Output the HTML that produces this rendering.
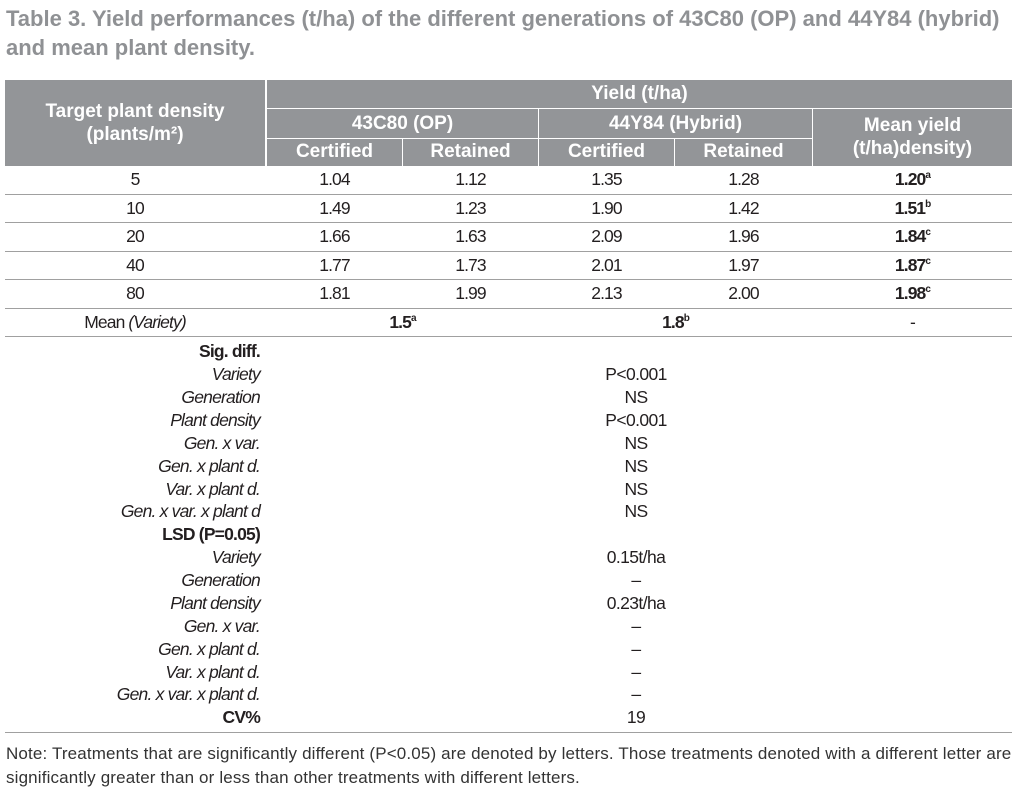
<!DOCTYPE html>
<html><head><meta charset="utf-8"><style>
body{margin:0;width:1017px;height:802px;background:#fff;position:relative;font-family:"Liberation Sans",sans-serif;color:#231f20;overflow:hidden}
.a{position:absolute;white-space:nowrap}
.t{font-weight:bold;color:#8f9194;font-size:22px;left:6px}
.h{position:absolute;background:#939598}
.hw{color:#fff;font-weight:bold;font-size:19px;text-align:center;position:absolute}
.l{position:absolute;height:1px;background:#a0a0a0;left:5px;width:1007px}
.wl{position:absolute;background:#fff}
.c{position:absolute;text-align:center;font-size:17.5px;letter-spacing:-0.9px}
.r{position:absolute;right:757px;font-size:17.5px;letter-spacing:-0.8px;text-align:right;white-space:nowrap}
.v{position:absolute;left:536px;width:200px;text-align:center;font-size:17.5px;letter-spacing:-0.6px}
sup{font-size:10px}
i{font-style:italic}
</style></head><body>
<div class="a t" style="top:6px">Table 3. Yield performances (t/ha) of the different generations of 43C80 (OP) and 44Y84 (hybrid)</div>
<div class="a t" style="top:35px">and mean plant density.</div>

<div class="h" style="left:5px;top:80px;width:1007px;height:86px"></div>
<div class="wl" style="left:265px;top:80px;width:2px;height:86px"></div>
<div class="wl" style="left:265px;top:108px;width:747px;height:1px"></div>
<div class="wl" style="left:265px;top:138px;width:547px;height:1px"></div>
<div class="wl" style="left:538px;top:108px;width:1px;height:58px"></div>
<div class="wl" style="left:812px;top:108px;width:1px;height:58px"></div>
<div class="wl" style="left:402px;top:138px;width:1px;height:28px"></div>
<div class="wl" style="left:674px;top:138px;width:1px;height:28px"></div>

<div class="hw" style="left:5px;width:260px;top:100px;line-height:23px">Target plant density<br>(plants/m²)</div>
<div class="hw" style="left:267px;width:745px;top:83px">Yield (t/ha)</div>
<div class="hw" style="left:267px;width:271px;top:113px">43C80 (OP)</div>
<div class="hw" style="left:539px;width:273px;top:113px">44Y84 (Hybrid)</div>
<div class="hw" style="left:813px;width:199px;top:114px;line-height:23px">Mean yield<br>(t/ha)density)</div>
<div class="hw" style="left:267px;width:135px;top:141px">Certified</div>
<div class="hw" style="left:403px;width:135px;top:141px">Retained</div>
<div class="hw" style="left:539px;width:135px;top:141px">Certified</div>
<div class="hw" style="left:675px;width:137px;top:141px">Retained</div>

<div class="l" style="top:194px"></div>
<div class="l" style="top:222px"></div>
<div class="l" style="top:251px"></div>
<div class="l" style="top:279px"></div>
<div class="l" style="top:308px"></div>
<div class="l" style="top:336px"></div>
<div class="l" style="top:732px"></div>

<div style="position:absolute;left:0;top:169px">
<div class="c" style="left:5px;width:260px;top:0">5</div><div class="c" style="left:267px;width:135px;top:0">1.04</div><div class="c" style="left:403px;width:135px;top:0">1.12</div><div class="c" style="left:539px;width:135px;top:0">1.35</div><div class="c" style="left:675px;width:137px;top:0">1.28</div><div class="c" style="left:813px;width:199px;top:0;font-weight:bold">1.20<sup>a</sup></div>
<div class="c" style="left:5px;width:260px;top:28.5px">10</div><div class="c" style="left:267px;width:135px;top:28.5px">1.49</div><div class="c" style="left:403px;width:135px;top:28.5px">1.23</div><div class="c" style="left:539px;width:135px;top:28.5px">1.90</div><div class="c" style="left:675px;width:137px;top:28.5px">1.42</div><div class="c" style="left:813px;width:199px;top:28.5px;font-weight:bold">1.51<sup>b</sup></div>
<div class="c" style="left:5px;width:260px;top:57px">20</div><div class="c" style="left:267px;width:135px;top:57px">1.66</div><div class="c" style="left:403px;width:135px;top:57px">1.63</div><div class="c" style="left:539px;width:135px;top:57px">2.09</div><div class="c" style="left:675px;width:137px;top:57px">1.96</div><div class="c" style="left:813px;width:199px;top:57px;font-weight:bold">1.84<sup>c</sup></div>
<div class="c" style="left:5px;width:260px;top:85.5px">40</div><div class="c" style="left:267px;width:135px;top:85.5px">1.77</div><div class="c" style="left:403px;width:135px;top:85.5px">1.73</div><div class="c" style="left:539px;width:135px;top:85.5px">2.01</div><div class="c" style="left:675px;width:137px;top:85.5px">1.97</div><div class="c" style="left:813px;width:199px;top:85.5px;font-weight:bold">1.87<sup>c</sup></div>
<div class="c" style="left:5px;width:260px;top:114px">80</div><div class="c" style="left:267px;width:135px;top:114px">1.81</div><div class="c" style="left:403px;width:135px;top:114px">1.99</div><div class="c" style="left:539px;width:135px;top:114px">2.13</div><div class="c" style="left:675px;width:137px;top:114px">2.00</div><div class="c" style="left:813px;width:199px;top:114px;font-weight:bold">1.98<sup>c</sup></div>
<div class="c" style="left:5px;width:260px;top:142.5px">Mean <i>(Variety)</i></div>
<div class="c" style="left:267px;width:271px;top:142.5px;font-weight:bold">1.5<sup>a</sup></div>
<div class="c" style="left:539px;width:273px;top:142.5px;font-weight:bold">1.8<sup>b</sup></div>
<div class="c" style="left:813px;width:199px;top:142.5px">-</div>
</div>

<div style="position:absolute;left:0;top:341px;width:1017px">
<div class="r" style="top:0;font-weight:bold">Sig. diff.</div>
<div class="r" style="top:23px"><i>Variety</i></div><div class="v" style="top:23px">P&lt;0.001</div>
<div class="r" style="top:46px"><i>Generation</i></div><div class="v" style="top:46px">NS</div>
<div class="r" style="top:68.5px"><i>Plant density</i></div><div class="v" style="top:68.5px">P&lt;0.001</div>
<div class="r" style="top:91.5px"><i>Gen. x var.</i></div><div class="v" style="top:91.5px">NS</div>
<div class="r" style="top:114.5px"><i>Gen. x plant d.</i></div><div class="v" style="top:114.5px">NS</div>
<div class="r" style="top:137.5px"><i>Var. x plant d.</i></div><div class="v" style="top:137.5px">NS</div>
<div class="r" style="top:160px"><i>Gen. x var. x plant d</i></div><div class="v" style="top:160px">NS</div>
<div class="r" style="top:183px;font-weight:bold">LSD (P=0.05)</div>
<div class="r" style="top:206px"><i>Variety</i></div><div class="v" style="top:206px">0.15t/ha</div>
<div class="r" style="top:229px"><i>Generation</i></div><div class="v" style="top:229px">–</div>
<div class="r" style="top:251.5px"><i>Plant density</i></div><div class="v" style="top:251.5px">0.23t/ha</div>
<div class="r" style="top:274.5px"><i>Gen. x var.</i></div><div class="v" style="top:274.5px">–</div>
<div class="r" style="top:297.5px"><i>Gen. x plant d.</i></div><div class="v" style="top:297.5px">–</div>
<div class="r" style="top:320.5px"><i>Var. x plant d.</i></div><div class="v" style="top:320.5px">–</div>
<div class="r" style="top:343px"><i>Gen. x var. x plant d.</i></div><div class="v" style="top:343px">–</div>
<div class="r" style="top:366px;font-weight:bold">CV%</div><div class="v" style="top:366px">19</div>
</div>

<div class="a" style="left:6px;top:744px;font-size:17px;letter-spacing:0.15px;color:#333">Note: Treatments that are significantly different (P&lt;0.05) are denoted by letters. Those treatments denoted with a different letter are</div>
<div class="a" style="left:6px;top:768px;font-size:17px;letter-spacing:0.15px;color:#333">significantly greater than or less than other treatments with different letters.</div>
</body></html>
